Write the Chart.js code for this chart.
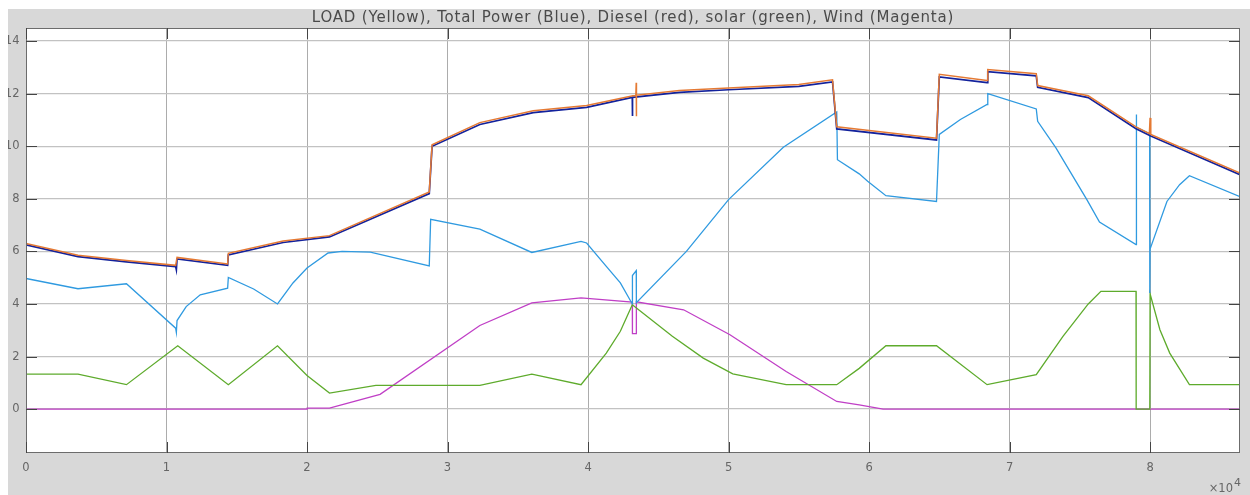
<!DOCTYPE html>
<html>
<head>
<meta charset="utf-8">
<script src="https://cdn.jsdelivr.net/npm/chart.js@4.4.1/dist/chart.umd.min.js"></script>
<style>
  html, body { margin: 0; padding: 0; background: #ffffff; width: 1250px; height: 495px; overflow: hidden; }
  #wrap { position: absolute; left: 8px; top: 9px; width: 1242px; height: 486px; }
</style>
</head>
<body>
<div id="wrap"><canvas id="c" width="1242" height="486"></canvas></div>
<script>
// Power balance over one day (time in seconds)
const titleText = 'LOAD (Yellow), Total Power (Blue), Diesel (red), solar (green), Wind (Magenta)';

const xTicks = [0, 10000, 20000, 30000, 40000, 50000, 60000, 70000, 80000];
const xTickLabels = ['0', '1', '2', '3', '4', '5', '6', '7', '8'];
const xExponent = '4';
const yTicks = [0, 2, 4, 6, 8, 10, 12, 14];
const yTickLabels = ['0', '2', '4', '6', '8', '10', '12', '14'];
const xMin = 0, xMax = 86400, yMin = -1.67, yMax = 14.5;

// LOAD
const loadTime  = [0, 1, 3700, 7150, 10650, 10750, 14350, 14400, 18300, 21600, 28700, 28900, 32300, 36100, 39900, 43200, 43400, 43430, 43440, 43450, 46500, 50000, 55000, 57400, 57700, 64800, 65000, 68400, 68450, 71900, 72000, 75600, 79000, 79950, 80000, 80050, 86400];
const loadPower = [7.5, 6.3, 5.85, 5.65, 5.47, 5.77, 5.52, 5.93, 6.4, 6.6, 8.26, 10.06, 10.9, 11.35, 11.55, 11.92, 11.93, 12.42, 11.14, 11.94, 12.12, 12.22, 12.35, 12.53, 10.74, 10.31, 12.74, 12.5, 12.92, 12.76, 12.31, 11.92, 10.74, 10.48, 11.08, 10.45, 8.98];

// Total Power
const totalTime  = [0, 3700, 7150, 10650, 10700, 10750, 14350, 14400, 18300, 21600, 28700, 28900, 32300, 36100, 39900, 43150, 43160, 43170, 46500, 50000, 55000, 57400, 57700, 64800, 65000, 68400, 68450, 71900, 72000, 75600, 79000, 80050, 86400];
const totalPower = [6.25, 5.8, 5.6, 5.42, 5.3, 5.71, 5.47, 5.87, 6.34, 6.55, 8.2, 10.0, 10.83, 11.28, 11.48, 11.86, 11.15, 11.86, 12.05, 12.15, 12.28, 12.45, 10.66, 10.24, 12.64, 12.42, 12.84, 12.68, 12.24, 11.85, 10.67, 10.39, 8.92];

// Diesel
const dieselTime  = [0, 1, 2, 3700, 7150, 10650, 10700, 10750, 11400, 12400, 14350, 14400, 16200, 17900, 19000, 20000, 21500, 22500, 24500, 28700, 28800, 32300, 36000, 39500, 39900, 41300, 42300, 43150, 43160, 43430, 43440, 47000, 50000, 53900, 57700, 57750, 59300, 59900, 61200, 64800, 65000, 66500, 68400, 68450, 71900, 72000, 73300, 75500, 76400, 79000, 79010, 79050, 79970, 79980, 80000, 81200, 82100, 82800, 86400];
const dieselPower = [1.3, 6.2, 4.97, 4.58, 4.77, 3.08, 2.92, 3.37, 3.9, 4.35, 4.6, 5.01, 4.57, 4.0, 4.8, 5.37, 5.94, 6.0, 5.97, 5.45, 7.22, 6.85, 5.96, 6.38, 6.32, 5.43, 4.8, 4.0, 5.08, 5.27, 4.05, 6.0, 7.97, 9.96, 11.31, 9.49, 8.95, 8.67, 8.12, 7.9, 10.45, 11.02, 11.59, 12.0, 11.42, 10.95, 9.94, 7.97, 7.12, 6.26, 11.21, 10.72, 10.48, 4.42, 6.09, 7.9, 8.54, 8.88, 8.08];

// Solar
const solarTime  = [0, 1, 3700, 7150, 10800, 14400, 17900, 20000, 21600, 24900, 32300, 36000, 39500, 41300, 42300, 43150, 46000, 48200, 50300, 54100, 57700, 59300, 61200, 64800, 68400, 71900, 73800, 75600, 76500, 79000, 79010, 79980, 80000, 80700, 81400, 82800, 86400];
const solarPower = [0, 1.33, 1.33, 0.93, 2.41, 0.93, 2.41, 1.28, 0.61, 0.9, 0.9, 1.33, 0.93, 2.13, 2.96, 3.97, 2.77, 1.94, 1.34, 0.93, 0.93, 1.55, 2.41, 2.41, 0.93, 1.31, 2.77, 4.0, 4.48, 4.48, 0, 0, 4.39, 3.02, 2.13, 0.93, 0.93];

// Wind
const windTime  = [0, 20000, 20010, 21600, 25200, 32300, 36000, 39500, 43150, 43160, 43430, 43440, 46800, 50100, 54100, 57700, 59300, 61000, 86400];
const windPower = [0, 0, 0.04, 0.04, 0.56, 3.18, 4.04, 4.23, 4.07, 2.87, 2.87, 4.08, 3.78, 2.83, 1.43, 0.29, 0.16, 0, 0];

const pts = (t, v) => t.map((x, i) => ({ x: x, y: v[i] }));

const FONT = 'DejaVu Sans, Verdana, sans-serif';
const TICK_LEN = 11;

const frame = {
  id: 'frame',
  beforeDraw(chart) {
    const { ctx, chartArea: a, width, height } = chart;
    ctx.save();
    ctx.fillStyle = '#d8d8d8';
    ctx.fillRect(0, 0, width, height);
    ctx.fillStyle = '#ffffff';
    ctx.fillRect(a.left, a.top, a.right - a.left, a.bottom - a.top);
    ctx.restore();
  },
  afterDatasetsDraw(chart) {
    const { ctx, chartArea: a, scales } = chart;
    ctx.save();
    ctx.lineWidth = 1;
    ctx.strokeStyle = '#6c6c6c';
    ctx.strokeRect(a.left + 0.5, a.top + 0.5, a.right - a.left - 1, a.bottom - a.top - 1);
    ctx.strokeStyle = '#444444';
    ctx.beginPath();
    xTicks.forEach(v => {
      const px = Math.round(scales.x.getPixelForValue(v)) + 0.5;
      ctx.moveTo(px, a.bottom); ctx.lineTo(px, a.bottom - TICK_LEN);
      ctx.moveTo(px, a.top); ctx.lineTo(px, a.top + TICK_LEN);
    });
    yTicks.forEach(v => {
      const py = Math.round(scales.y.getPixelForValue(v)) + 0.5;
      ctx.moveTo(a.left, py); ctx.lineTo(a.left + TICK_LEN, py);
      ctx.moveTo(a.right, py); ctx.lineTo(a.right - TICK_LEN, py);
    });
    ctx.stroke();
    ctx.restore();
  },
  afterDraw(chart) {
    const { ctx, chartArea: a } = chart;
    ctx.save();
    ctx.fillStyle = '#4a4a4a';
    ctx.font = '15px ' + FONT;
    if ('letterSpacing' in ctx) ctx.letterSpacing = '0.8px';
    ctx.textAlign = 'center';
    ctx.textBaseline = 'alphabetic';
    ctx.fillText(titleText, (a.left + a.right) / 2, 12.5);
    if ('letterSpacing' in ctx) ctx.letterSpacing = '0px';
    // axis multiplier for the time axis
    ctx.fillStyle = '#666666';
    ctx.textAlign = 'right';
    ctx.textBaseline = 'middle';
    ctx.font = '11px ' + FONT;
    ctx.fillText(xExponent, a.right + 1, 474);
    ctx.font = '11.5px ' + FONT;
    ctx.fillText('\u00d710', a.right - 7, 480.5);
    ctx.restore();
  }
};

const line = (label, t, v, color, w) => ({
  label, data: pts(t, v), borderColor: color, backgroundColor: color,
  borderWidth: w, pointRadius: 0, tension: 0, fill: false
});

new Chart(document.getElementById('c'), {
  type: 'line',
  data: {
    datasets: [
      line('LOAD', loadTime, loadPower, '#e57a34', 1.5),
      line('Total Power', totalTime, totalPower, '#13229c', 1.7),
      line('Diesel', dieselTime, dieselPower, '#2f9ae0', 1.3),
      line('Solar', solarTime, solarPower, '#5eab2c', 1.3),
      line('Wind', windTime, windPower, '#c03fc6', 1.3)
    ]
  },
  options: {
    responsive: false,
    animation: false,
    devicePixelRatio: 1,
    layout: { padding: { top: 19, right: 10, left: 0, bottom: 0 } },
    plugins: { legend: { display: false }, tooltip: { enabled: false }, title: { display: false } },
    scales: {
      x: {
        type: 'linear', min: xMin, max: xMax,
        afterBuildTicks: s => { s.ticks = xTicks.map(v => ({ value: v })); },
        afterFit: s => { s.height = 42; },
        ticks: {
          callback: (v, i) => xTickLabels[i],
          font: { family: FONT, size: 11.5 }, color: '#666666',
          padding: 8, maxRotation: 0, autoSkip: false
        },
        grid: { color: '#acacac', lineWidth: 1, drawTicks: false },
        border: { display: false }
      },
      y: {
        type: 'linear', min: yMin, max: yMax,
        afterBuildTicks: s => { s.ticks = yTicks.map(v => ({ value: v })); },
        afterFit: s => { s.width = 18; },
        ticks: {
          callback: (v, i) => yTickLabels[i],
          font: { family: FONT, size: 11.5 }, color: '#666666',
          padding: 6.5, autoSkip: false
        },
        grid: { color: '#c2c2c2', lineWidth: 1.3, drawTicks: false },
        border: { display: false }
      }
    }
  },
  plugins: [frame]
});
</script>
</body>
</html>
